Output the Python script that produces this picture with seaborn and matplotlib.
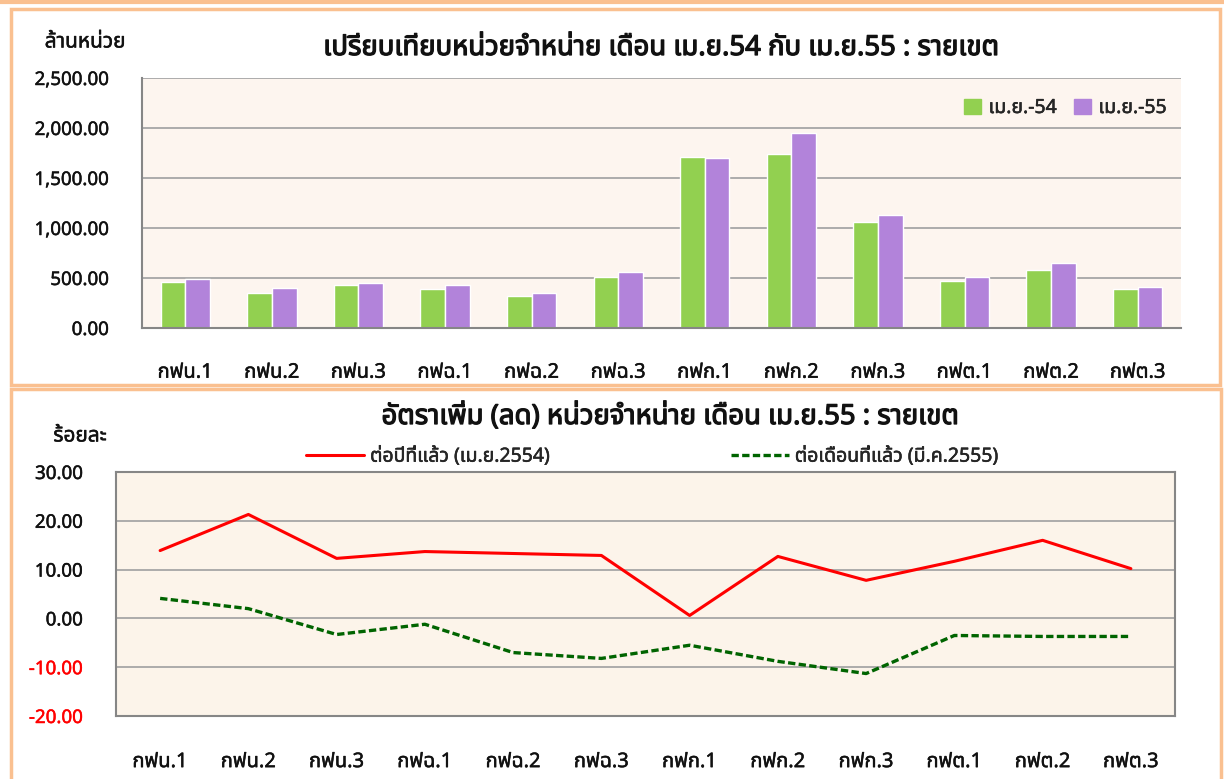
import numpy as np
import pandas as pd
import matplotlib.pyplot as plt
import matplotlib.font_manager as fm
import matplotlib.patheffects as pe
from matplotlib.patches import Rectangle
from matplotlib.ticker import FuncFormatter
import seaborn as sns

zones = ['กฟน.1', 'กฟน.2', 'กฟน.3', 'กฟฉ.1', 'กฟฉ.2', 'กฟฉ.3',
         'กฟก.1', 'กฟก.2', 'กฟก.3', 'กฟต.1', 'กฟต.2', 'กฟต.3']
units_apr54 = [460, 350, 430, 390, 320, 507, 1715, 1745, 1060, 470, 580, 390]
units_apr55 = [495, 400, 453, 430, 347, 560, 1705, 1955, 1135, 507, 653, 413]
growth_yoy = [13.9, 21.3, 12.3, 13.7, 13.3, 12.9, 0.6, 12.7, 7.8, 11.7, 16.0, 10.2]
growth_mom = [4.1, 2.0, -3.3, -1.2, -7.0, -8.2, -5.5, -8.8, -11.3, -3.5, -3.7, -3.7]
bar_labels = ['เม.ย.-54', 'เม.ย.-55']
line_labels = ['ต่อปีที่แล้ว (เม.ย.2554)', 'ต่อเดือนที่แล้ว (มี.ค.2555)']

sns.set_theme(style='white')
available = {f.name for f in fm.fontManager.ttflist}
thai_fonts = [n for n in ['Tahoma', 'Noto Sans Thai', 'Noto Sans Thai UI', 'Loma',
                          'Garuda', 'Norasi', 'Waree', 'Sawasdee', 'Kinnari']
              if n in available]
plt.rcParams['font.family'] = thai_fonts + ['DejaVu Sans']

W, H = 1224, 779
fig = plt.figure(figsize=(W / 100, H / 100), dpi=100)
orange = '#FAC090'
bold = [pe.withStroke(linewidth=0.9, foreground='#111111')]
semibold = [pe.withStroke(linewidth=0.35, foreground='#111111')]


def fig_rect(x0, y0, x1, y1, **kw):
    # pixel coords (top-left origin) -> figure rectangle
    fig.patches.append(Rectangle((x0 / W, 1 - y1 / H), (x1 - x0) / W, (y1 - y0) / H,
                                 transform=fig.transFigure, fill=False, **kw))


fig_rect(0, 0, W, 2, edgecolor=orange, lw=3)
fig_rect(11, 9, 1220, 385, edgecolor=orange, lw=2.5)
fig_rect(11, 389, 1221, 781, edgecolor=orange, lw=2.5)

# ---- top: units sold ----
ax1 = fig.add_axes([142 / W, 1 - 328 / H, 1039 / W, 250 / H])
df = pd.DataFrame({'zone': zones * 2,
                   'units': units_apr54 + units_apr55,
                   'month': [bar_labels[0]] * 12 + [bar_labels[1]] * 12})
bar_colors = ['#92D050', '#B283DA']
sns.barplot(data=df, x='zone', y='units', hue='month', palette=bar_colors,
            width=0.57, saturation=1, ax=ax1, legend=False)
ax1.set_facecolor('#FDF5EF')
ax1.set_ylim(0, 2500)
ax1.set_yticks(np.arange(0, 2501, 500))
ax1.yaxis.set_major_formatter(FuncFormatter(lambda v, p: f'{v:,.2f}'))
ax1.grid(axis='y', color='#A6A6A6', lw=1.3)
ax1.set_axisbelow(True)
for s in ['top', 'right']:
    ax1.spines[s].set_visible(False)
for s in ['left', 'bottom']:
    ax1.spines[s].set_color('#868686')
    ax1.spines[s].set_linewidth(1.5)
ax1.set_xlabel('')
ax1.set_ylabel('')
ax1.tick_params(axis='x', length=0, pad=25, labelsize=14.5, labelcolor='#111111')
ax1.tick_params(axis='y', length=0, pad=24, labelsize=13.5, labelcolor='#111111')
for t in ax1.get_xticklabels() + ax1.get_yticklabels():
    t.set_path_effects(semibold)
handles = [Rectangle((0, 0), 1, 1, color=c) for c in bar_colors]
leg = ax1.legend(handles, bar_labels, loc='upper right', bbox_to_anchor=(1.003, 0.99),
                 ncol=2, frameon=False, fontsize=14, handlelength=0.85, handleheight=0.85,
                 handletextpad=0.4, columnspacing=0.9)
for t in leg.get_texts():
    t.set_path_effects(semibold)
fig.text(85 / W, 1 - 42 / H, 'ล้านหน่วย', ha='center', va='center', fontsize=15,
         color='#111111', path_effects=semibold)
fig.text(661 / W, 1 - 48 / H, 'เปรียบเทียบหน่วยจำหน่าย เดือน เม.ย.54 กับ เม.ย.55 : รายเขต',
         ha='center', va='center', fontsize=19.8, color='#111111', path_effects=bold)

# ---- bottom: growth rate ----
ax2 = fig.add_axes([116 / W, 1 - 716 / H, 1059 / W, 244 / H])
x = np.arange(len(zones))
sns.lineplot(x=x, y=growth_yoy, color='#FF0000', lw=2.2, ax=ax2, label=line_labels[0])
sns.lineplot(x=x, y=growth_mom, color='#006400', lw=2.4, ls=(0, (2.2, 1.0)), ax=ax2,
             label=line_labels[1])
ax2.set_facecolor('#FCF4EA')
ax2.set_xlim(-0.5, len(zones) - 0.5)
ax2.set_xticks(x)
ax2.set_xticklabels(zones)
ax2.set_ylim(-20, 30)
ax2.set_yticks(np.arange(-20, 31, 10))
ax2.yaxis.set_major_formatter(FuncFormatter(lambda v, p: f'{v:.2f}'))
ax2.grid(axis='y', color='#A6A6A6', lw=1.3)
ax2.set_axisbelow(True)
for s in ax2.spines.values():
    s.set_color('#868686')
    s.set_linewidth(1.5)
ax2.tick_params(axis='x', length=0, pad=26, labelsize=14.5, labelcolor='#111111')
ax2.tick_params(axis='y', length=0, pad=24, labelsize=13.5, labelcolor='#111111')
for t, v in zip(ax2.get_yticklabels(), ax2.get_yticks()):
    if v < 0:
        t.set_color('#FF0000')
        t.set_path_effects([pe.withStroke(linewidth=0.35, foreground='#FF0000')])
    else:
        t.set_path_effects(semibold)
for t in ax2.get_xticklabels():
    t.set_path_effects(semibold)
leg2 = ax2.legend(loc='lower left', bbox_to_anchor=(0.172, 0.99), ncol=2, frameon=False,
                  fontsize=14, handlelength=3.0, handletextpad=0.3, columnspacing=9.3,
                  borderaxespad=0)
for t in leg2.get_texts():
    t.set_path_effects(semibold)
fig.text(80 / W, 1 - 436 / H, 'ร้อยละ', ha='center', va='center', fontsize=15,
         color='#111111', path_effects=semibold)
fig.text(670 / W, 1 - 417 / H, 'อัตราเพิ่ม (ลด) หน่วยจำหน่าย เดือน เม.ย.55 : รายเขต',
         ha='center', va='center', fontsize=19.8, color='#111111', path_effects=bold)

fig.savefig('out.png', dpi=100)
